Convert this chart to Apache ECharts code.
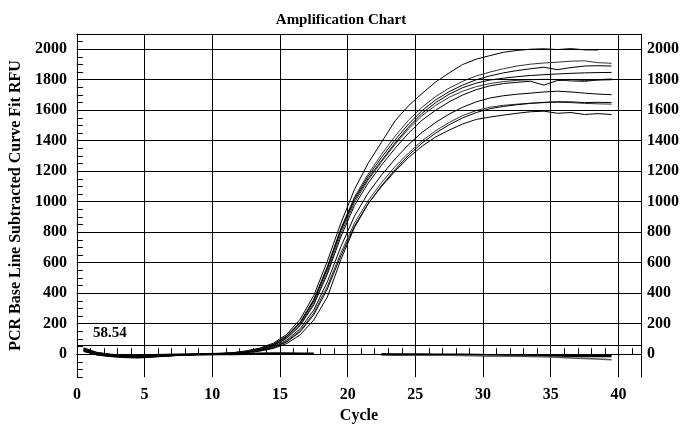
<!DOCTYPE html>
<html>
<head>
<meta charset="utf-8">
<script src="https://cdn.jsdelivr.net/npm/echarts@6/dist/echarts.min.js"></script>
<style>
html,body{margin:0;padding:0;background:#fff;}
#chart{width:682px;height:429px;}
</style>
</head>
<body>
<div id="chart"></div>
<script>
// Cycle positions of readings
var cycles = [];
for (var k = 0; k < 40; k++) { cycles.push(k + 0.5); }

// Amplification curves (RFU), one value per cycle position
var wellA = [42,12,0,-5,-7,-6,-4,-2,0,2,5,10, 22,40,72,130,230,385,610,860,1080,1250,1390,1530,1630,1710,1785,1845,1900,1935,1958,1980,1992,2000,2003,1998,2004,1996,1995,null];
var wellB = [35,6,-5,-10,-12,-10,-7,-4,-1,1,4,9, 20,36,66,120,212,360,575,825,1030,1180,1310,1430,1535,1620,1690,1745,1790,1825,1850,1872,1890,1902,1910,1915,1922,1924,1912,1908];
var wellC = [28,2,-8,-14,-16,-13,-9,-5,-2,0,3,8, 19,35,64,118,208,355,568,818,1020,1165,1290,1405,1510,1598,1668,1722,1765,1800,1825,1845,1860,1872,1882,1866,1880,1890,1892,1890];
var wellD = [38,8,-3,-8,-10,-9,-6,-3,-1,1,4,8, 18,33,62,115,205,350,560,810,1010,1150,1270,1385,1490,1580,1650,1705,1748,1778,1798,1810,1820,1828,1833,1838,1842,1845,1847,1848];
var wellE = [25,-2,-12,-18,-20,-16,-11,-7,-3,0,3,7, 17,31,58,108,195,335,540,790,995,1140,1262,1375,1478,1565,1632,1685,1725,1755,1775,1788,1796,1800,1803,1800,1792,1788,1800,1806];
var wellF = [32,4,-6,-11,-13,-11,-7,-4,-2,1,3,7, 16,30,56,104,188,325,525,770,975,1120,1240,1350,1450,1535,1600,1655,1700,1735,1760,1775,1783,1790,1765,1795,1800,1796,1798,1800];
var wellG = [20,-4,-14,-20,-22,-18,-12,-7,-3,0,2,6, 14,27,50,92,168,290,475,705,905,1055,1175,1280,1375,1455,1520,1575,1620,1655,1680,1695,1705,1712,1720,1725,1720,1712,1706,1702];
var wellH = [36,10,-2,-7,-9,-8,-5,-3,-1,1,3,6, 13,25,46,85,155,270,445,665,860,1005,1125,1230,1320,1400,1465,1520,1565,1598,1620,1632,1640,1646,1650,1652,1650,1645,1642,1640];
var wellI = [26,0,-10,-15,-17,-14,-9,-5,-2,0,2,5, 12,23,43,80,148,258,428,645,840,985,1105,1210,1305,1385,1450,1505,1550,1585,1610,1625,1636,1645,1652,1656,1655,1650,1652,1650];
var wellJ = [18,-6,-16,-22,-25,-20,-14,-8,-4,-1,1,5, 11,20,38,70,128,225,375,620,830,985,1100,1200,1290,1365,1425,1470,1510,1540,1555,1568,1580,1590,1594,1580,1585,1572,1578,1572];
// Non-amplifying wells
var negA = [30,4,-6,-9,-9,-7,-5,-3,-1,0,1,2,3,3,4,4,3,3,null,null,null,null,0,-1,-1,-2,-3,-3,-4,-5,-6,-6,-7,-8,-9,-9,-10,-11,-11,-12];
var negB = [null,null,null,null,null,null,null,null,null,null,null,null,null,null,null,null,null,null,null,null,null,null,-2,-3,-4,-5,-6,-7,-8,-9,-10,-12,-13,-15,-17,-20,-24,-28,-32,-36];

var threshold = 58.54;
var yGridValues = [0,200,400,600,800,1000,1200,1400,1600,1800,2000];

var FONT = 'Liberation Serif';

function pairs(arr) {
  return cycles.map(function (c, i) { return [c, arr[i]]; });
}

var chart = echarts.init(document.getElementById('chart'), null, {renderer: 'canvas'});

var lab200 = function (v) { return (Math.round(v) % 200 === 0) ? String(Math.round(v)) : ''; };
var lab5 = function (v) { return (Math.abs(v - Math.round(v)) < 1e-6 && Math.round(v) % 5 === 0) ? String(Math.round(v)) : ''; };

var wells = [wellA, wellB, wellC, wellD, wellE, wellF, wellG, wellH, wellI, wellJ];
var series = wells.map(function (w, i) {
  return {
    type: 'line', data: pairs(w), showSymbol: false, symbol: 'none',
    xAxisIndex: 0, yAxisIndex: 0, connectNulls: false,
    lineStyle: {color: i % 3 === 1 ? '#333' : '#000', width: 1},
    silent: true, animation: false
  };
});
series[0].markLine = {
  silent: true, symbol: 'none', animation: false,
  lineStyle: {color: '#000', width: 1, type: 'solid'},
  label: {show: false},
  data: yGridValues.map(function (v) { return {yAxis: v}; }).concat([{
    yAxis: threshold,
    label: {show: true, formatter: String(threshold), position: 'insideStartTop',
      distance: [16, 5], color: '#000', fontFamily: FONT, fontWeight: 'bold', fontSize: 15}
  }])
};
series.push({type: 'line', data: pairs(negA), showSymbol: false, symbol: 'none', connectNulls: false,
  lineStyle: {color: '#000', width: 2.5}, silent: true, animation: false});
series.push({type: 'line', data: pairs(negB), showSymbol: false, symbol: 'none', connectNulls: false,
  lineStyle: {color: '#555', width: 1.5}, silent: true, animation: false});

var XMAX = 41.67;
var option = {
  backgroundColor: '#fff',
  animation: false,
  title: {
    text: 'Amplification Chart', left: 'center', top: 8,
    textStyle: {fontFamily: FONT, fontWeight: 'bold', fontSize: 15, color: '#000'}
  },
  grid: {left: 72, right: 35, top: 34, bottom: 48, containLabel: false},
  xAxis: [
    {
      type: 'value', position: 'bottom', min: 0, max: XMAX, interval: 1,
      name: 'Cycle', nameLocation: 'middle', nameGap: 30,
      nameTextStyle: {fontFamily: FONT, fontWeight: 'bold', fontSize: 16, color: '#000'},
      axisLine: {show: true, lineStyle: {color: '#000', width: 1}},
      axisTick: {show: true, inside: true, length: 6, lineStyle: {color: '#000'}},
      axisLabel: {formatter: lab5, margin: 10, fontFamily: FONT, fontWeight: 'bold', fontSize: 16, color: '#000'},
      splitLine: {show: false}
    },
    {
      type: 'value', position: 'bottom', min: 0, max: XMAX, interval: 5,
      axisLine: {show: false},
      axisTick: {show: true, inside: false, length: 5, lineStyle: {color: '#000'}},
      axisLabel: {show: false},
      splitLine: {show: true, lineStyle: {color: '#000', width: 1}}
    },
    {
      type: 'value', position: 'top', min: 0, max: XMAX,
      axisLine: {show: true, onZero: false, lineStyle: {color: '#000', width: 1}},
      axisTick: {show: false}, axisLabel: {show: false}, splitLine: {show: false}
    }
  ],
  yAxis: [
    {
      type: 'value', position: 'left', min: -150, max: 2100, interval: 50,
      name: 'PCR Base Line Subtracted Curve Fit RFU', nameLocation: 'middle', nameGap: 49,
      nameTextStyle: {fontFamily: FONT, fontWeight: 'bold', fontSize: 16, color: '#000'},
      axisLine: {show: true, onZero: false, lineStyle: {color: '#000', width: 1}},
      axisTick: {show: true, inside: true, length: 6, lineStyle: {color: '#000'}},
      axisLabel: {formatter: lab200, margin: 10, fontFamily: FONT, fontWeight: 'bold', fontSize: 16, color: '#000'},
      splitLine: {show: false}
    },
    {
      type: 'value', position: 'right', min: -150, max: 2100, interval: 50,
      axisLine: {show: true, onZero: false, lineStyle: {color: '#000', width: 1}},
      axisTick: {show: false},
      axisLabel: {formatter: lab200, margin: 6, fontFamily: FONT, fontWeight: 'bold', fontSize: 16, color: '#000'},
      splitLine: {show: false}
    }
  ],
  series: series
};
chart.setOption(option);
</script>
</body>
</html>
